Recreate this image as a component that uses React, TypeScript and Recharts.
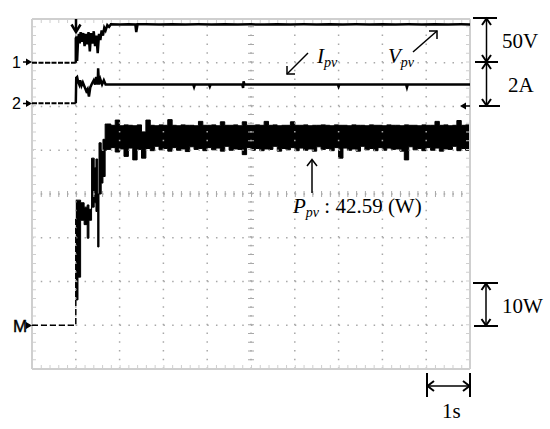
import React from "react";
import { ComposedChart, Line, Area, XAxis, YAxis, ReferenceLine } from "recharts";

// scope screen: 10 div x 8 div, 1 s/div
const gridX = [1, 2, 3, 4, 6, 7, 8, 9];
const gridY = [1, 2, 3, 5, 6, 7];

// before trigger (t in s)
const vpvPre: [number, number][] = [[0, 0], [1.0, 0]];
const ipvPre: [number, number][] = [[0, 0], [1.0, 0]];
const ppvPre: [number, number][] = [[0, 0], [1.0, 0], [1.0, 24.7]];

// Vpv (V)
const vpvTrace: [number, number][] = [
  [1.0, 0], [1.0, 28], [1.02, 30], [1.03, 2], [1.05, 25], [1.07, 33], [1.09, 22], [1.11, 35],
  [1.14, 24], [1.17, 34], [1.2, 19], [1.23, 33], [1.26, 21], [1.29, 35], [1.32, 13], [1.35, 34],
  [1.38, 22], [1.41, 36], [1.44, 19], [1.47, 31], [1.5, 11], [1.53, 33], [1.56, 26], [1.59, 37],
  [1.62, 31], [1.65, 40], [1.68, 37], [1.72, 43], [1.76, 41], [1.8, 44], [2.0, 43.8], [2.2, 44.1],
  [2.36, 43.7], [2.38, 35], [2.41, 43.9], [2.6, 44.0], [2.9, 43.7], [3.2, 44.1], [3.5, 43.8],
  [3.8, 43.9], [4.1, 43.7], [4.4, 44.0], [4.7, 43.8], [5.0, 43.9], [5.3, 43.7], [5.6, 44.0],
  [5.9, 43.8], [6.2, 43.9], [6.5, 43.7], [6.8, 44.0], [7.1, 43.8], [7.4, 43.9], [7.7, 43.7],
  [8.0, 44.0], [8.3, 43.8], [8.6, 43.9], [8.9, 43.7], [9.2, 44.0], [9.5, 43.8], [9.8, 43.9], [10, 43.8],
];

// Ipv (A)
const ipvTrace: [number, number][] = [
  [1.0, 0], [1.01, 1.16], [1.03, 1.2], [1.05, 1.0], [1.08, 0.85], [1.1, 1.05], [1.13, 0.8],
  [1.16, 0.95], [1.2, 0.75], [1.24, 0.55], [1.27, 0.65], [1.3, 0.3], [1.33, 0.72], [1.37, 0.9],
  [1.41, 1.05], [1.44, 0.85], [1.47, 1.2], [1.5, 0.85], [1.51, 1.6], [1.53, 0.86], [1.56, 1.1],
  [1.6, 0.86], [1.64, 1.05], [1.68, 0.86], [3.68, 0.86], [3.7, 0.74], [3.72, 0.86], [4.04, 0.86],
  [4.06, 0.76], [4.08, 0.86], [4.8, 0.86], [4.82, 0.7], [4.83, 1.0], [4.85, 0.86], [6.98, 0.86],
  [7.0, 0.76], [7.02, 0.86], [8.54, 0.86], [8.56, 0.72], [8.58, 0.86], [10, 0.86],
];

// Ppv envelope (W): [t, low, high]
const ppvBand: [number, number, number][] = [
  [1.0, 5.8, 28.6], [1.05, 11, 28.6], [1.11, 24, 28], [1.19, 23, 27], [1.26, 19.9, 27.5],
  [1.3, 24, 26.5], [1.36, 27, 38.2], [1.42, 28, 36], [1.46, 26, 38], [1.5, 17.9, 30],
  [1.53, 30, 41.7], [1.58, 32.5, 40], [1.62, 34, 42.5], [1.67, 40, 46],
  [1.7, 40.2, 46.0], [1.8, 40.6, 45.7], [1.9, 39.6, 46.9], [2.0, 40.3, 45.6], [2.1, 38.6, 45.8],
  [2.2, 40.5, 45.7], [2.3, 37.8, 45.6], [2.4, 40.2, 45.8], [2.5, 38.2, 44.2], [2.6, 40.4, 46.9],
  [2.7, 39.9, 45.7], [2.8, 40.9, 45.6], [2.9, 40.1, 45.8], [3.0, 40.4, 45.7], [3.1, 39.8, 47.0],
  [3.2, 40.6, 45.7], [3.3, 40.0, 45.6], [3.4, 40.3, 45.8], [3.5, 39.7, 45.7], [3.6, 40.8, 45.7],
  [3.7, 40.2, 45.6], [3.8, 40.4, 46.6], [3.9, 39.9, 45.7], [4.0, 40.6, 45.7], [4.1, 40.1, 45.8],
  [4.2, 40.5, 45.6], [4.3, 39.8, 46.5], [4.4, 40.9, 45.7], [4.5, 40.0, 45.7], [4.6, 40.3, 45.8],
  [4.7, 40.2, 45.6], [4.8, 39.0, 46.5], [4.9, 40.6, 45.7], [5.0, 40.0, 45.7], [5.1, 40.4, 45.8],
  [5.2, 39.9, 45.7], [5.3, 40.3, 46.6], [5.4, 40.2, 45.7], [5.5, 40.9, 45.8], [5.6, 39.8, 45.6],
  [5.7, 40.4, 45.7], [5.8, 40.1, 45.7], [5.9, 40.6, 46.5], [6.0, 39.9, 45.7], [6.1, 40.5, 45.7],
  [6.2, 40.0, 45.8], [6.3, 40.3, 45.6], [6.4, 39.8, 45.7], [6.5, 40.8, 45.7], [6.6, 40.2, 45.8],
  [6.7, 40.4, 45.7], [6.8, 39.9, 45.6], [6.9, 40.6, 45.8], [7.0, 38.2, 45.7], [7.1, 40.5, 45.7],
  [7.2, 40.0, 45.6], [7.3, 40.3, 45.8], [7.4, 39.8, 45.7], [7.5, 40.9, 45.7], [7.6, 40.1, 45.6],
  [7.7, 40.4, 45.8], [7.8, 39.9, 45.7], [7.9, 40.6, 45.7], [8.0, 40.0, 45.6], [8.1, 40.5, 45.8],
  [8.2, 40.2, 45.7], [8.3, 40.3, 45.7], [8.4, 39.8, 45.6], [8.5, 37.8, 45.8], [8.6, 40.8, 45.7],
  [8.7, 40.1, 45.7], [8.8, 40.4, 45.6], [8.9, 39.9, 45.8], [9.0, 40.6, 45.7], [9.1, 40.0, 45.7],
  [9.2, 40.5, 46.6], [9.3, 39.8, 45.7], [9.4, 40.3, 45.8], [9.5, 40.2, 45.6], [9.6, 40.9, 45.7],
  [9.7, 39.9, 46.8], [9.8, 40.4, 45.7], [9.9, 40.0, 45.8], [10.0, 40.5, 45.7],
];

const rows = (d: [number, number][]) => d.map(([t, v]) => ({ t, v }));
const bandRows = ppvBand.map(([t, lo, hi]) => ({ t, r: [lo, hi] }));

const serif = "'Liberation Serif', 'Times New Roman', serif";
const sans = "'Liberation Sans', Arial, sans-serif";
const gridColor = "#a8a8a8";
const borderColor = "#cfcfcf";

const Overlay = () => (
  <svg width={550} height={429} style={{ position: "absolute", left: 0, top: 0, pointerEvents: "none" }}>
    <g stroke="#000" fill="none" strokeWidth={2}>
      {/* trigger */}
      <line x1={76} y1={19} x2={76} y2={31} strokeWidth={2.5} />
      <polyline points="71.5,24.5 76,32 80.5,24.5" strokeWidth={2.5} />
      {/* channel refs */}
      <line x1={23} y1={62} x2={30} y2={62} strokeWidth={1.5} />
      <line x1={23} y1={103.5} x2={30} y2={103.5} strokeWidth={1.5} />
      <line x1={26} y1={325.5} x2={30} y2={325.5} strokeWidth={1.5} />
      <line x1={462} y1={106} x2={470} y2={106} strokeWidth={1.5} />
      {/* 50V / 2A */}
      <line x1={486.5} y1={18} x2={486.5} y2={106} strokeWidth={1.5} />
      <line x1={473} y1={18} x2={497} y2={18} />
      <line x1={475} y1={62} x2={498} y2={62} />
      <line x1={479} y1={106} x2={500} y2={106} />
      <polyline points="482,25 486.5,18.5 491,25" />
      <polyline points="482,55 486.5,61.5 491,55" />
      <polyline points="482,69 486.5,62.5 491,69" />
      <polyline points="482,99 486.5,105.5 491,99" />
      {/* 10W */}
      <line x1={486} y1={283} x2={486} y2={326} strokeWidth={1.5} />
      <line x1={473} y1={283} x2={498} y2={283} />
      <line x1={474} y1={326} x2={498} y2={326} />
      <polyline points="481.5,290 486,283.5 490.5,290" />
      <polyline points="481.5,319 486,325.5 490.5,319" />
      {/* 1s */}
      <line x1={427} y1={373} x2={427} y2={397} />
      <line x1={470} y1={373} x2={470} y2={397} />
      <line x1={427} y1={386} x2={470} y2={386} strokeWidth={1.5} />
      <polyline points="434,381 427.5,386 434,391" />
      <polyline points="463,381 469.5,386 463,391" />
      {/* label arrows */}
      <line x1={308} y1={53} x2={287} y2={74} strokeWidth={1.5} />
      <polyline points="287,66 287,74 295,74" strokeWidth={1.5} />
      <line x1={413} y1={52} x2={437} y2={31} strokeWidth={1.5} />
      <polyline points="429,31 437,31 437,39" strokeWidth={1.5} />
      <line x1={312} y1={160} x2={312} y2={193} strokeWidth={1.5} />
      <polyline points="307,166 312,159.5 317,166" strokeWidth={1.5} />
    </g>
    <g fill="#000" stroke="none">
      <path d="M26 58.5 L32 62 L26 65.5 Z" />
      <path d="M26 100 L32 103.5 L26 107 Z" />
      <path d="M26 322 L32 325.5 L26 329 Z" />
      <path d="M460 106 L466 102.5 L466 109.5 Z" />
    </g>
    <g fontFamily={sans} fontSize={16} fill="#000">
      <text x={12} y={68}>1</text>
      <text x={12} y={109}>2</text>
      <text x={13} y={332} fontSize={17} stroke="#000" strokeWidth={0.4}>M</text>
    </g>
    <g fontFamily={serif} fontSize={21} fill="#000">
      <text x={502} y={48}>50V</text>
      <text x={508} y={92}>2A</text>
      <text x={502} y={313}>10W</text>
      <text x={442} y={418}>1s</text>
      <text x={317} y={63}>
        <tspan fontStyle="italic">I</tspan>
        <tspan fontStyle="italic" fontSize={14} dy={4}>pv</tspan>
      </text>
      <text x={388} y={63}>
        <tspan fontStyle="italic">V</tspan>
        <tspan fontStyle="italic" fontSize={14} dy={4}>pv</tspan>
      </text>
      <text x={293} y={213}>
        <tspan fontStyle="italic">P</tspan>
        <tspan fontStyle="italic" fontSize={14} dy={4}>pv</tspan>
        <tspan dy={-4}> : 42.59 (W)</tspan>
      </text>
    </g>
  </svg>
);

const App = () => (
  <div style={{ position: "absolute", left: 0, top: 0, width: 550, height: 429, background: "#fff" }}>
    <ComposedChart width={550} height={429} margin={{ top: 19, left: 32, right: 80, bottom: 60 }}>
      <XAxis dataKey="t" type="number" domain={[0, 10]} hide allowDataOverflow />
      <YAxis yAxisId="div" type="number" domain={[0, 8]} hide allowDataOverflow />
      <YAxis yAxisId="v" type="number" domain={[-350, 50]} hide allowDataOverflow />
      <YAxis yAxisId="i" type="number" domain={[-12.15, 3.85]} hide allowDataOverflow />
      <YAxis yAxisId="p" type="number" domain={[-10, 70]} hide allowDataOverflow />

      {gridX.map((x) => (
        <ReferenceLine key={"gx" + x} x={x} yAxisId="div" stroke={gridColor} strokeWidth={1.5} strokeDasharray="1.5 7.26" />
      ))}
      {gridY.map((y) => (
        <ReferenceLine key={"gy" + y} y={y} yAxisId="div" stroke={gridColor} strokeWidth={1.5} strokeDasharray="1.5 7.26" />
      ))}
      <ReferenceLine x={5} yAxisId="div" stroke={gridColor} strokeWidth={1.5} strokeDasharray="1.5 7.26" />
      <ReferenceLine y={4} yAxisId="div" stroke={gridColor} strokeWidth={1.5} strokeDasharray="1.5 7.26" />
      <ReferenceLine x={5} yAxisId="div" stroke={gridColor} strokeWidth={6} strokeDasharray="1 7.76" />
      <ReferenceLine y={4} yAxisId="div" stroke={gridColor} strokeWidth={6} strokeDasharray="1 7.76" />
      {[0, 10].map((x) => (
        <ReferenceLine key={"bt" + x} x={x} yAxisId="div" stroke={borderColor} strokeWidth={8} strokeDasharray="1 7.76" ifOverflow="hidden" />
      ))}
      {[0, 8].map((y) => (
        <ReferenceLine key={"bt" + y} y={y} yAxisId="div" stroke={borderColor} strokeWidth={8} strokeDasharray="1 7.76" ifOverflow="hidden" />
      ))}
      {[0, 10].map((x) => (
        <ReferenceLine key={"b" + x} x={x} yAxisId="div" stroke={borderColor} strokeWidth={2} />
      ))}
      {[0, 8].map((y) => (
        <ReferenceLine key={"b" + y} y={y} yAxisId="div" stroke={borderColor} strokeWidth={2} />
      ))}

      <Line data={rows(vpvPre)} dataKey="v" yAxisId="v" type="linear" stroke="#000" strokeWidth={2} strokeDasharray="5 1.5" dot={false} activeDot={false} isAnimationActive={false} />
      <Line data={rows(ipvPre)} dataKey="v" yAxisId="i" type="linear" stroke="#000" strokeWidth={2} strokeDasharray="5 1.5" dot={false} activeDot={false} isAnimationActive={false} />
      <Line data={rows(ppvPre)} dataKey="v" yAxisId="p" type="linear" stroke="#000" strokeWidth={1.5} strokeDasharray="6 3" dot={false} activeDot={false} isAnimationActive={false} />
      <Area data={bandRows} dataKey="r" yAxisId="p" type="stepAfter" stroke="#000" strokeWidth={1} fill="#000" fillOpacity={1} dot={false} activeDot={false} isAnimationActive={false} />
      <Line data={rows(vpvTrace)} dataKey="v" yAxisId="v" type="linear" stroke="#000" strokeWidth={2.5} dot={false} activeDot={false} isAnimationActive={false} />
      <Line data={rows(ipvTrace)} dataKey="v" yAxisId="i" type="linear" stroke="#000" strokeWidth={2.5} dot={false} activeDot={false} isAnimationActive={false} />
    </ComposedChart>
    <Overlay />
  </div>
);

export default App;
